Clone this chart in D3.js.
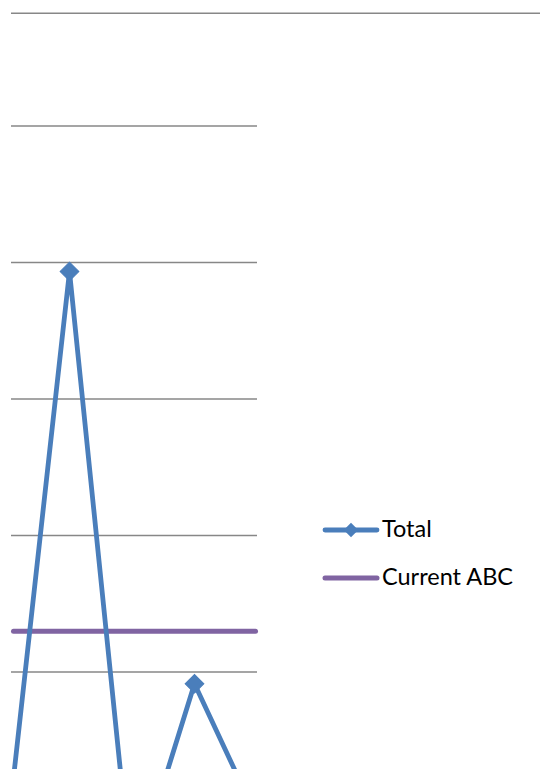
<!DOCTYPE html>
<html>
<head>
<meta charset="utf-8">
<script src="https://cdn.jsdelivr.net/npm/d3@7"></script>
<style>
html,body{margin:0;padding:0;background:#fff;}
svg{display:block;}
</style>
</head>
<body>
<script>
// ---- data ----
const categories = ["1", "2", "3", "4", "5"];
const totalValues = [79, 493, 44, 191, 93];
const abcValue = 229.5;
const gridValues = [200, 300, 400, 500, 600];
const seriesNames = ["Total", "Current ABC"];

const W = 540, H = 769;
const blue = "#4A7EBB", purple = "#8064A2", gridColor = "#878787";

const svg = d3.select("body").append("svg").attr("width", W).attr("height", H);

const x = d3.scalePoint().domain(categories).range([7, 257]);
const y = d3.scaleLinear().domain([200, 600]).range([671.5, 125.5]);
const plotL = 11, plotR = 257;

// top border line
svg.append("line").attr("x1", plotL).attr("x2", W).attr("y1", 13.2).attr("y2", 13.2)
  .attr("stroke", gridColor).attr("stroke-width", 1.6);

// gridlines via axis
const grid = svg.append("g").attr("transform", `translate(${plotL},0)`)
  .call(d3.axisRight(y).tickValues(gridValues).tickSize(plotR - plotL).tickFormat(""));
grid.select(".domain").remove();
grid.selectAll(".tick line").attr("stroke", gridColor).attr("stroke-width", 1.6);

// Current ABC line
svg.append("line")
  .attr("x1", plotL + 2.5).attr("x2", plotR - 1.5)
  .attr("y1", y(abcValue)).attr("y2", y(abcValue))
  .attr("stroke", purple).attr("stroke-width", 5).attr("stroke-linecap", "round");

// Total line
const line = d3.line().x((d, i) => x(categories[i])).y(d => y(d));
svg.append("path").datum(totalValues).attr("d", line)
  .attr("fill", "none").attr("stroke", blue).attr("stroke-width", 4.8)
  .attr("stroke-linejoin", "round");

const diamond = d3.symbol().type(d3.symbolSquare).size(175);
svg.selectAll(".mk").data(totalValues).join("path")
  .attr("class", "mk")
  .attr("d", diamond)
  .attr("transform", (d, i) => `translate(${x(categories[i])},${y(d)}) rotate(45)`)
  .attr("fill", blue).attr("stroke", blue).attr("stroke-width", 1);

// legend
const leg = svg.append("g");
const legY = [530, 578];
leg.append("line").attr("x1", 325).attr("x2", 377).attr("y1", legY[0]).attr("y2", legY[0])
  .attr("stroke", blue).attr("stroke-width", 4.8).attr("stroke-linecap", "round");
leg.append("path").attr("d", d3.symbol().type(d3.symbolSquare).size(105))
  .attr("transform", `translate(351,${legY[0]}) rotate(45)`).attr("fill", blue);
leg.append("line").attr("x1", 325).attr("x2", 377).attr("y1", legY[1]).attr("y2", legY[1])
  .attr("stroke", purple).attr("stroke-width", 5).attr("stroke-linecap", "round");
leg.selectAll("text").data(seriesNames).join("text")
  .attr("x", 382).attr("y", (d, i) => legY[i] + 7)
  .attr("font-family", "Lato, 'Open Sans', sans-serif")
  .attr("font-size", 23.5)
  .attr("fill", "#000")
  .text(d => d);
</script>
</body>
</html>
